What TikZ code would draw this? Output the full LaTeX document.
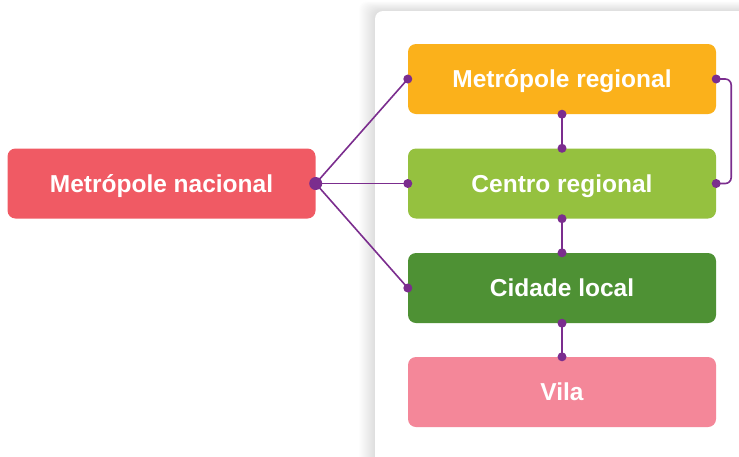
\documentclass[tikz,border=0pt]{standalone}
\usepackage{fontspec}
\setmainfont{Liberation Sans}
\usetikzlibrary{calc}
\definecolor{nacionalred}{HTML}{F05A64}
\definecolor{regionalorange}{HTML}{FBB11B}
\definecolor{centrogreen}{HTML}{95C13F}
\definecolor{cidadegreen}{HTML}{4E9134}
\definecolor{vilapink}{HTML}{F48799}
\definecolor{linkpurple}{HTML}{7B2D8E}
\tikzset{
  levelbox/.style={fill=#1, rounded corners=8, minimum width=308, minimum height=70,
    inner sep=0, text height=17.5, text depth=0, text=white,
    font=\fontsize{24.5}{28}\selectfont\bfseries},
  link/.style={draw=linkpurple, line width=1.6},
  dot/.style={fill=linkpurple}
}
\begin{document}
\begin{tikzpicture}[x=1pt, y=-1pt]
		%%%%% START %%%%%
		\useasboundingbox (0, 0) rectangle (739, 456);
		
		% panel with soft shadow
		\foreach \i in {1,...,16}
		  \fill[black, opacity=0.006, rounded corners=8] (375-\i, 11-0.6*\i) rectangle (760, 470);
		\fill[white, rounded corners=8] (375, 11) rectangle (760, 470);
		
		\node[levelbox=nacionalred] (nacional) at (161.5, 183.5) {Metrópole nacional};
		\node[levelbox=regionalorange] (regional) at (562, 79) {Metrópole regional};
		\node[levelbox=centrogreen] (centro) at (562, 183.5) {Centro regional};
		\node[levelbox=cidadegreen] (cidade) at (562, 288) {Cidade local};
		\node[levelbox=vilapink] (vila) at (562, 392) {Vila};
		
		\draw[link] (nacional.east) -- (regional.west);
		\draw[link] (nacional.east) -- (centro.west);
		\draw[link] (nacional.east) -- (cidade.west);
		\draw[link] (regional.south) -- (centro.north);
		\draw[link] (centro.south) -- (cidade.north);
		\draw[link] (cidade.south) -- (vila.north);
		\draw[link, rounded corners=6] (regional.east) -- ($(regional.east)+(15, 0)$)
		  -- ($(centro.east)+(15, 0)$) -- (centro.east);
		
		\fill[dot] (nacional.east) circle (6.5);
		\foreach \p in {regional.west, centro.west, cidade.west, regional.south, centro.north,
		  centro.south, cidade.north, cidade.south, vila.north, regional.east, centro.east}
		  \fill[dot] (\p) circle (4.5);
		%%%%% END %%%%%
\end{tikzpicture}
\end{document}
